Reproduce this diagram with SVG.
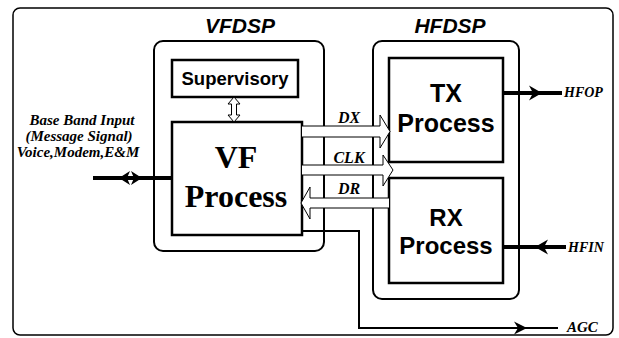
<svg xmlns="http://www.w3.org/2000/svg" width="619" height="338" viewBox="0 0 619 338">
<style>
.frame{fill:none;stroke:#000;stroke-width:1.5}
.dsp{fill:none;stroke:#000;stroke-width:2}
.blk{fill:#fff;stroke:#000;stroke-width:2.5}
.bus{fill:#fff;stroke:#000;stroke-width:1}
.wire{fill:none;stroke:#000}
.head{fill:#000;stroke:none}
.sans{font-family:"Liberation Sans",Arial,sans-serif;font-weight:bold}
.serif{font-family:"Liberation Serif","Times New Roman",serif;font-weight:bold}
.it{font-style:italic}
</style>
<rect x="0" y="0" width="619" height="338" fill="#fff"/>
<rect class="frame" x="13" y="8" width="600" height="327" rx="7"/>
<g id="vfdsp">
<rect class="dsp" x="154" y="41" width="170" height="210" rx="9"/>
<text class="sans it" x="240" y="33" font-size="21" text-anchor="middle">VFDSP</text>
</g>
<g id="hfdsp">
<rect class="dsp" x="373" y="41" width="146" height="258" rx="9"/>
<text class="sans it" x="450" y="33" font-size="21" text-anchor="middle">HFDSP</text>
</g>
<g id="supervisory">
<rect class="blk" x="172" y="60" width="126" height="37"/>
<text class="sans" x="235" y="85" font-size="18.5" text-anchor="middle">Supervisory</text>
</g>
<g id="vf">
<rect class="blk" x="172" y="122" width="130" height="113"/>
<text class="serif" x="236" y="168" font-size="32" text-anchor="middle">VF</text>
<text class="serif" x="236" y="207" font-size="32" text-anchor="middle">Process</text>
</g>
<g id="tx">
<rect class="blk" x="389" y="58" width="114" height="104"/>
<text class="sans" x="446" y="102" font-size="25" text-anchor="middle">TX</text>
<text class="sans" x="446" y="132" font-size="25" text-anchor="middle">Process</text>
</g>
<g id="rx">
<rect class="blk" x="389" y="178" width="114" height="105"/>
<text class="sans" x="446" y="226" font-size="24" text-anchor="middle">RX</text>
<text class="sans" x="446" y="254" font-size="24" text-anchor="middle">Process</text>
</g>
<g id="baseband">
<text class="serif it" font-size="15" text-anchor="middle"><tspan x="82" y="125">Base Band Input</tspan><tspan x="79" y="141">(Message Signal)</tspan><tspan x="78" y="157">Voice,Modem,E&amp;M</tspan></text>
</g>
<g id="connectors">
<path class="bus" d="M234,97 L240,104 L236.5,104 L236.5,115 L240,115 L234,122 L228,115 L231.5,115 L231.5,104 L228,104 Z"/>
<path class="bus" d="M302,126 L380,126 L380,115 L390,131.5 L380,148 L380,137 L302,137"/>
<path class="bus" d="M302,165 L383,165 L383,155 L393,170 L383,186 L383,175 L302,175"/>
<path class="bus" d="M389,198 L310,198 L310,187 L301,203 L310,219 L310,208 L389,208"/>
<line class="wire" x1="93" y1="178" x2="172" y2="178" stroke-width="4"/>
<path class="head" d="M119,178 L130,171 L127,178 L130,185 Z"/>
<path class="head" d="M142,178 L131,171 L134,178 L131,185 Z"/>
<line class="wire" x1="503" y1="93" x2="562" y2="93" stroke-width="4"/>
<path class="head" d="M542,93 L529,85.5 L533,93 L529,100.5 Z"/>
<line class="wire" x1="503" y1="247" x2="566" y2="247" stroke-width="4"/>
<path class="head" d="M535,247 L548,239.5 L544,247 L548,254.5 Z"/>
<polyline class="wire" points="302,231 359,231 359,328 558,328" stroke-width="2"/>
<path class="head" d="M527,328 L514,321.5 L518,328 L514,334.5 Z"/>
<text class="serif it" x="349" y="123" font-size="16" text-anchor="middle">DX</text>
<text class="serif it" x="349" y="163" font-size="16" text-anchor="middle">CLK</text>
<text class="serif it" x="349" y="194" font-size="16" text-anchor="middle">DR</text>
<text class="serif it" x="564" y="97" font-size="14">HFOP</text>
<text class="serif it" x="568" y="252" font-size="14">HFIN</text>
<text class="serif it" x="567" y="332" font-size="15">AGC</text>
</g>
</svg>
